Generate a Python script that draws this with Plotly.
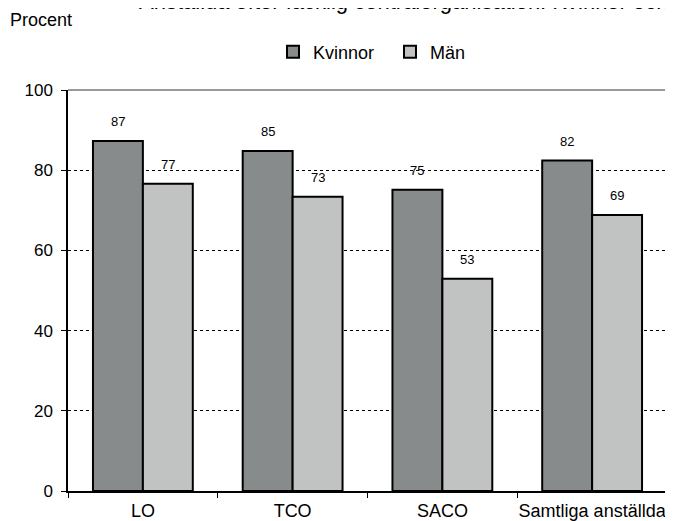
import plotly.graph_objects as go

categories = ["LO", "TCO", "SACO", "Samtliga anställda"]
kvinnor = [87.3, 84.8, 75.1, 82.4]
man = [76.6, 73.4, 52.9, 68.8]
series_names = ["Kvinnor", "Män"]
title_text = "Anställda efter facklig centralorganisation. Kvinnor och män"
y_title = "Procent"

FONT = "Liberation Sans, Arial, sans-serif"
W, H = 673, 521
L, R, T, B = 60, 14, 82, 38
PW = W - L - R
PH = H - T - B

fig = go.Figure()
fig.add_trace(go.Bar(x=categories, y=kvinnor, name=series_names[0],
                     marker=dict(color="#878b8b", line=dict(color="black", width=2))))
fig.add_trace(go.Bar(x=categories, y=man, name=series_names[1],
                     marker=dict(color="#c1c3c3", line=dict(color="black", width=2))))

annotations = []
for i, c in enumerate(categories):
    for vals, off in ((kvinnor, -0.1667), (man, 0.1667)):
        annotations.append(dict(x=i + off, y=vals[i], xref="x", yref="y",
                                text=f"{round(vals[i])}", showarrow=False,
                                yanchor="bottom", yshift=10,
                                font=dict(family=FONT, size=13, color="black")))

annotations.append(dict(x=(0 - L) / PW, y=1 + (T - 12) / PH, xref="paper", yref="paper",
                        text=y_title, showarrow=False, xanchor="left", yanchor="middle",
                        font=dict(family=FONT, size=18, color="black")))
annotations.append(dict(x=(129 - L) / PW, y=1 + (T + 6) / PH, xref="paper", yref="paper",
                        text=title_text, showarrow=False, xanchor="left", yanchor="middle",
                        font=dict(family=FONT, size=22, color="black")))

fig.update_layout(
    width=W, height=H,
    margin=dict(l=L, r=R, t=T, b=B, pad=0, autoexpand=False),
    paper_bgcolor="white", plot_bgcolor="white",
    font=dict(family=FONT, color="black"),
    barmode="group", bargap=1/3, bargroupgap=0,
    showlegend=True,
    legend=dict(orientation="h", xref="paper", yref="paper",
                x=(265 - L) / PW, y=1 + (T - 44) / PH, xanchor="left", yanchor="middle",
                font=dict(family=FONT, size=18, color="black"),
                itemwidth=30, entrywidth=72, bgcolor="rgba(0,0,0,0)", traceorder="normal"),
    annotations=annotations,
    shapes=[
        dict(type="line", xref="paper", yref="paper", x0=0, x1=1, y0=1, y1=1,
             line=dict(color="#999999", width=2), layer="above"),
        dict(type="line", xref="paper", yref="paper", x0=1, x1=1, y0=0, y1=1,
             line=dict(color="#999999", width=2), layer="above"),
    ],
)

fig.update_xaxes(type="category", showline=True, linecolor="black", linewidth=1.5,
                 ticks="outside", tickson="boundaries", ticklen=5, tickcolor="black",
                 tickfont=dict(family=FONT, size=18, color="black"), tickangle=0,
                 automargin=False,
                 showgrid=False, zeroline=False, ticklabelstandoff=3)
fig.update_yaxes(range=[0, 100], dtick=20, tick0=0, showline=True, linecolor="black",
                 linewidth=1.5, ticks="outside", ticklen=5, tickcolor="black",
                 tickfont=dict(family=FONT, size=17, color="black"), automargin=False,
                 showgrid=True, gridcolor="black", gridwidth=1, griddash="dot",
                 zeroline=False, ticklabelstandoff=5)

fig.write_html("out.html")
